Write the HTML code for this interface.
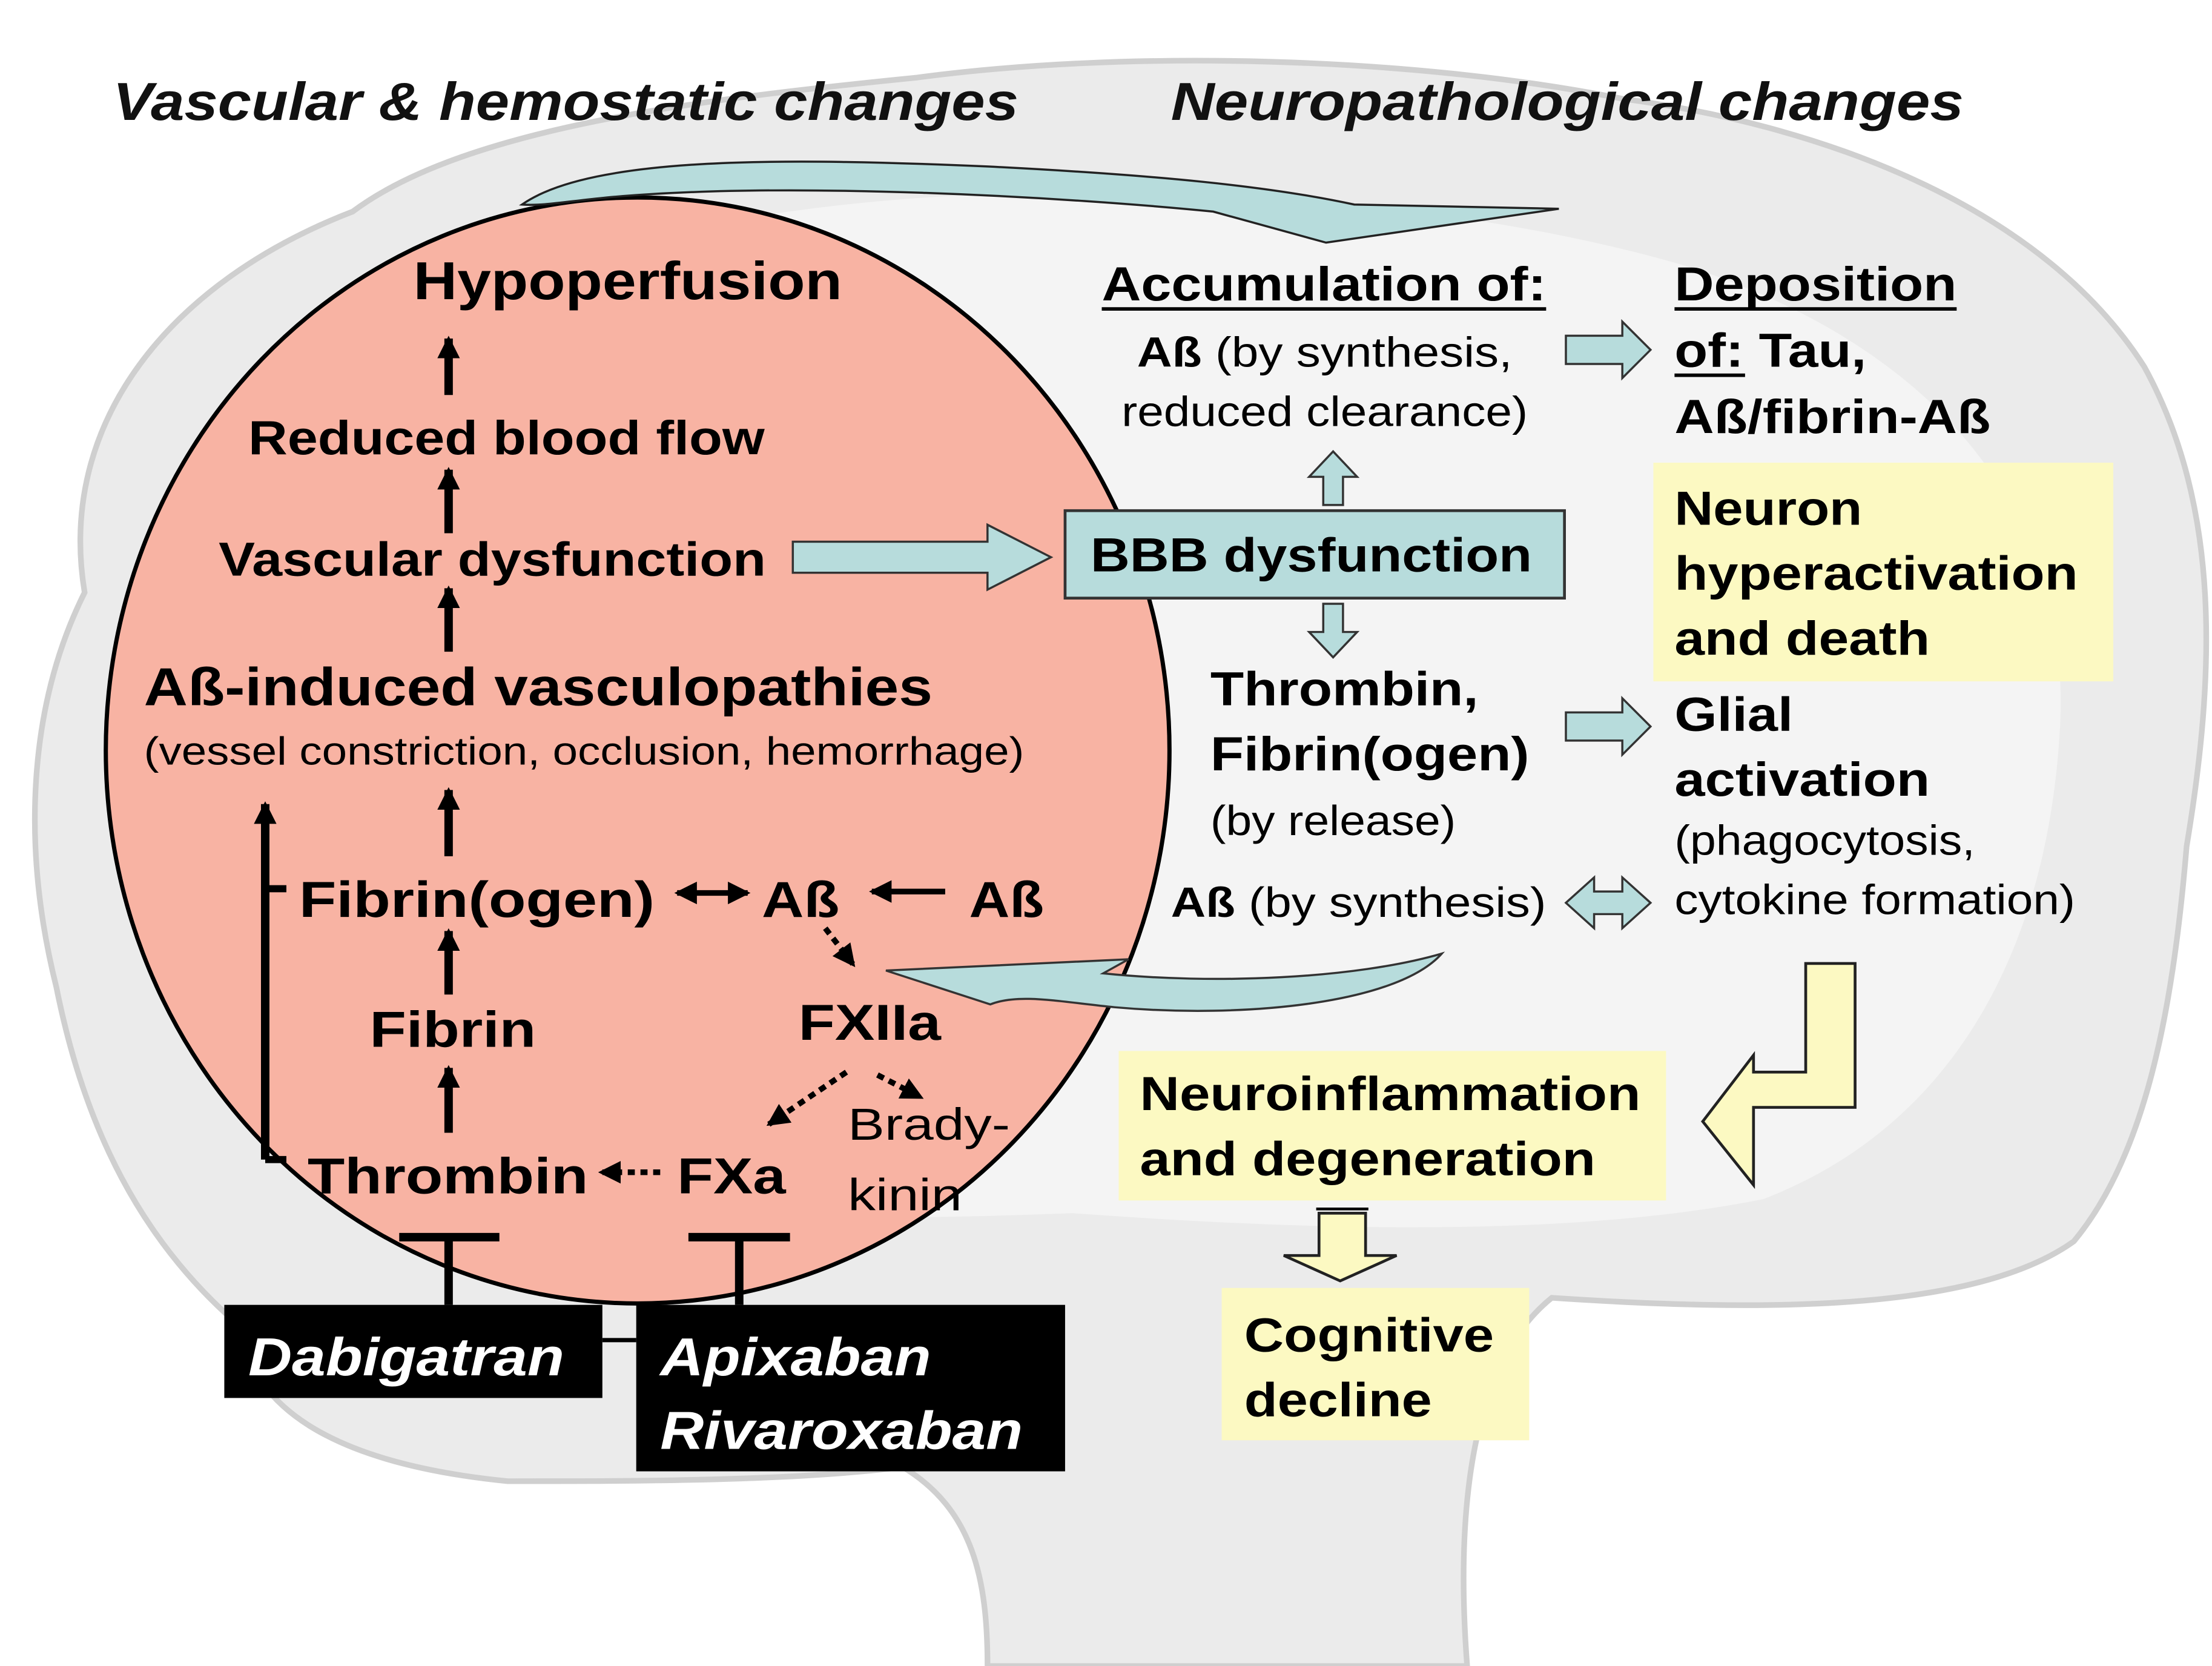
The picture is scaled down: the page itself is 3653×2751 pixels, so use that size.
<!DOCTYPE html>
<html><head><meta charset="utf-8">
<style>
html,body{margin:0;padding:0;background:#fff;}
svg{display:block;}
text{font-family:"Liberation Sans",sans-serif;}
.b{font-weight:bold;}
</style></head>
<body>
<svg width="3653" height="2751" viewBox="0 0 1568 1181" preserveAspectRatio="none" xmlns="http://www.w3.org/2000/svg">
<defs>
<marker id="ah2" markerWidth="16" markerHeight="16" refX="14" refY="8" orient="auto" markerUnits="userSpaceOnUse"><path d="M0,0 L16,8 L0,16 z" fill="#000"/></marker>
<marker id="ah3" markerWidth="16" markerHeight="16" refX="2" refY="8" orient="auto" markerUnits="userSpaceOnUse"><path d="M16,0 L0,8 L16,16 z" fill="#000"/></marker>
</defs>
<rect width="1568" height="1181" fill="#fff"/>
<!-- brain -->
<path d="M60,420 C40,300 120,200 250,150 C330,90 500,70 650,55 C800,35 1000,40 1150,70 C1300,90 1450,150 1520,260 C1575,360 1570,480 1550,600 C1540,720 1520,820 1470,880 C1400,930 1250,930 1100,920 C1050,960 1030,1050 1040,1181 L700,1181 C700,1120 690,1070 640,1040 C560,1050 450,1050 360,1050 C260,1040 180,1010 170,940 C100,880 60,800 40,700 C15,600 20,500 60,420 Z" fill="#ebebeb" stroke="#cfcfcf" stroke-width="4"/>
<path d="M140,430 C160,300 300,200 500,160 C700,120 1000,130 1200,190 C1380,250 1470,370 1460,520 C1450,680 1380,800 1250,850 C1100,880 900,870 760,860 C500,870 250,860 180,760 C130,660 130,540 140,430 Z" fill="#f4f4f4"/>
<!-- titles -->
<text x="80" y="85" class="b" font-style="italic" font-size="38" textLength="642" lengthAdjust="spacingAndGlyphs" fill="#111">Vascular &amp; hemostatic changes</text>
<text x="830" y="85" class="b" font-style="italic" font-size="38" textLength="562" lengthAdjust="spacingAndGlyphs" fill="#111">Neuropathological changes</text>
<!-- salmon ellipse -->
<ellipse cx="452" cy="532" rx="377" ry="392" fill="#f8b3a3" stroke="#000" stroke-width="3"/>
<!-- top curved arrow -->
<path d="M370,145 C420,110 560,112 700,118 C820,124 900,132 960,145 L1105,148 L940,172 L860,150 C760,140 560,128 430,140 C400,143 385,146 370,145 Z" fill="#b7dcdc" stroke="#222" stroke-width="1.5"/>
<!-- left texts -->
<text x="293" y="212" class="b" font-size="38" textLength="304" lengthAdjust="spacingAndGlyphs">Hypoperfusion</text>
<text x="176" y="322" class="b" font-size="34" textLength="366" lengthAdjust="spacingAndGlyphs">Reduced blood flow</text>
<text x="155" y="408" class="b" font-size="34" textLength="388" lengthAdjust="spacingAndGlyphs">Vascular dysfunction</text>
<text x="102" y="500" class="b" font-size="38" textLength="559" lengthAdjust="spacingAndGlyphs">Aß-induced vasculopathies</text>
<text x="102" y="542" font-size="28" textLength="624" lengthAdjust="spacingAndGlyphs">(vessel constriction, occlusion, hemorrhage)</text>
<text x="212" y="650" class="b" font-size="36" textLength="252" lengthAdjust="spacingAndGlyphs">Fibrin(ogen)</text>
<text x="540" y="650" class="b" font-size="36" textLength="55" lengthAdjust="spacingAndGlyphs">Aß</text>
<text x="687" y="650" class="b" font-size="36" textLength="53" lengthAdjust="spacingAndGlyphs">Aß</text>
<text x="262" y="742" class="b" font-size="36" textLength="118" lengthAdjust="spacingAndGlyphs">Fibrin</text>
<text x="566" y="737" class="b" font-size="36" textLength="101" lengthAdjust="spacingAndGlyphs">FXIIa</text>
<text x="218" y="846" class="b" font-size="36" textLength="199" lengthAdjust="spacingAndGlyphs">Thrombin</text>
<text x="480" y="846" class="b" font-size="36" textLength="77" lengthAdjust="spacingAndGlyphs">FXa</text>
<text x="601" y="808" font-size="32" textLength="115" lengthAdjust="spacingAndGlyphs">Brady-</text>
<text x="601" y="858" font-size="32" textLength="81" lengthAdjust="spacingAndGlyphs">kinin</text>
<!-- up arrows -->
<g stroke="#000" stroke-width="6" marker-end="url(#ah2)">
<line x1="318" y1="280" x2="318" y2="240"/>
<line x1="318" y1="378" x2="318" y2="333"/>
<line x1="318" y1="462" x2="318" y2="417"/>
<line x1="318" y1="607" x2="318" y2="560"/>
<line x1="318" y1="705" x2="318" y2="660"/>
<line x1="318" y1="803" x2="318" y2="757"/>
<line x1="188" y1="822" x2="188" y2="570"/>
</g>
<path d="M188,630 H203 M188,822 H203" stroke="#000" stroke-width="5"/>
<line x1="480" y1="633" x2="530" y2="633" stroke="#000" stroke-width="4" marker-end="url(#ah2)" marker-start="url(#ah3)"/>
<line x1="670" y1="632" x2="618" y2="632" stroke="#000" stroke-width="4" marker-end="url(#ah2)"/>
<g stroke="#000" stroke-width="4" stroke-dasharray="5,4" fill="none">
<line x1="585" y1="658" x2="605" y2="684" marker-end="url(#ah2)"/>
<line x1="600" y1="760" x2="545" y2="797" marker-end="url(#ah2)"/>
<line x1="622" y1="762" x2="653" y2="778" marker-end="url(#ah2)"/>
<line x1="468" y1="831" x2="426" y2="831" marker-end="url(#ah2)"/>
</g>
<!-- tees -->
<path d="M283,877 H354 M318,877 V925 M488,877 H560 M524,877 V925" stroke="#000" stroke-width="6" fill="none"/>
<line x1="427" y1="950" x2="451" y2="950" stroke="#000" stroke-width="3"/>
<rect x="159" y="925" width="268" height="66" fill="#000"/>
<rect x="451" y="925" width="304" height="118" fill="#000"/>
<text x="176" y="975" class="b" font-style="italic" font-size="38" fill="#fff" textLength="224" lengthAdjust="spacingAndGlyphs">Dabigatran</text>
<text x="468" y="975" class="b" font-style="italic" font-size="38" fill="#fff" textLength="192" lengthAdjust="spacingAndGlyphs">Apixaban</text>
<text x="468" y="1027" class="b" font-style="italic" font-size="38" fill="#fff" textLength="257" lengthAdjust="spacingAndGlyphs">Rivaroxaban</text>
<!-- cyan arrows -->
<g fill="#b7dcdc" stroke="#333" stroke-width="1.5">
<path d="M562,384 H700 V372 L745,395 L700,418 V406 H562 Z"/>
<path d="M1110,238 H1150 V228 L1170,248 L1150,268 V258 H1110 Z"/>
<path d="M1110,505 H1150 V495 L1170,515 L1150,535 V525 H1110 Z"/>
<path d="M1130,632 H1150 V622 L1170,640 L1150,658 V648 H1130 V658 L1110,640 L1130,622 Z"/>
<path d="M938,358 V338 H928 L945,320 L962,338 H952 V358 Z"/>
<path d="M938,428 V448 H928 L945,466 L962,448 H952 V428 Z"/>
<path d="M1022,676 C990,712 880,722 790,714 C750,710 722,704 702,712 L628,688 L800,680 L782,690 C860,698 960,694 1022,676 Z"/>
</g>
<rect x="755" y="362" width="354" height="62" fill="#b7dcdc" stroke="#333" stroke-width="2"/>
<text x="773" y="405" class="b" font-size="34" textLength="313" lengthAdjust="spacingAndGlyphs">BBB dysfunction</text>
<!-- right texts -->
<text x="781" y="213" class="b" font-size="34" textLength="315" lengthAdjust="spacingAndGlyphs">Accumulation of:</text>
<line x1="781" y1="219" x2="1096" y2="219" stroke="#000" stroke-width="2.5"/>
<text x="806" y="260" font-size="30" textLength="266" lengthAdjust="spacingAndGlyphs"><tspan class="b">Aß</tspan> (by synthesis,</text>
<text x="795" y="302" font-size="30" textLength="288" lengthAdjust="spacingAndGlyphs">reduced clearance)</text>
<text x="1187" y="213" class="b" font-size="34" textLength="200" lengthAdjust="spacingAndGlyphs">Deposition</text>
<line x1="1187" y1="219" x2="1387" y2="219" stroke="#000" stroke-width="2.5"/>
<text x="1187" y="260" class="b" font-size="34" textLength="136" lengthAdjust="spacingAndGlyphs">of: Tau,</text>
<line x1="1187" y1="266" x2="1237" y2="266" stroke="#000" stroke-width="2.5"/>
<text x="1187" y="307" class="b" font-size="34" textLength="224" lengthAdjust="spacingAndGlyphs">Aß/fibrin-Aß</text>
<rect x="1172" y="328" width="326" height="155" fill="#fcf9c2"/>
<text x="1187" y="372" class="b" font-size="34" textLength="133" lengthAdjust="spacingAndGlyphs">Neuron</text>
<text x="1187" y="418" class="b" font-size="34" textLength="286" lengthAdjust="spacingAndGlyphs">hyperactivation</text>
<text x="1187" y="464" class="b" font-size="34" textLength="181" lengthAdjust="spacingAndGlyphs">and death</text>
<text x="858" y="500" class="b" font-size="34" textLength="190" lengthAdjust="spacingAndGlyphs">Thrombin,</text>
<text x="858" y="546" class="b" font-size="34" textLength="226" lengthAdjust="spacingAndGlyphs">Fibrin(ogen)</text>
<text x="858" y="592" font-size="30" textLength="174" lengthAdjust="spacingAndGlyphs">(by release)</text>
<text x="830" y="650" font-size="30" textLength="266" lengthAdjust="spacingAndGlyphs"><tspan class="b">Aß</tspan> (by synthesis)</text>
<text x="1187" y="518" class="b" font-size="34" textLength="84" lengthAdjust="spacingAndGlyphs">Glial</text>
<text x="1187" y="564" class="b" font-size="34" textLength="181" lengthAdjust="spacingAndGlyphs">activation</text>
<text x="1187" y="606" font-size="30" textLength="213" lengthAdjust="spacingAndGlyphs">(phagocytosis,</text>
<text x="1187" y="648" font-size="30" textLength="284" lengthAdjust="spacingAndGlyphs">cytokine formation)</text>
<!-- yellow boxes -->
<rect x="793" y="745" width="388" height="106" fill="#fcf9c2"/>
<text x="808" y="787" class="b" font-size="34" textLength="355" lengthAdjust="spacingAndGlyphs">Neuroinflammation</text>
<text x="808" y="833" class="b" font-size="34" textLength="323" lengthAdjust="spacingAndGlyphs">and degeneration</text>
<rect x="866" y="913" width="218" height="108" fill="#fcf9c2"/>
<text x="882" y="958" class="b" font-size="34" textLength="177" lengthAdjust="spacingAndGlyphs">Cognitive</text>
<text x="882" y="1004" class="b" font-size="34" textLength="133" lengthAdjust="spacingAndGlyphs">decline</text>
<path d="M1280,683 H1315 V785 H1243 V840 L1207,795 L1243,748 V760 H1280 Z" fill="#fcf9c2" stroke="#222" stroke-width="2"/>
<path d="M935,860 H968 V890 H990 L950,908 L910,890 H935 Z" fill="#fcf9c2" stroke="#222" stroke-width="2"/>
<line x1="933" y1="857" x2="970" y2="857" stroke="#000" stroke-width="2"/>
</svg>
</body></html>
